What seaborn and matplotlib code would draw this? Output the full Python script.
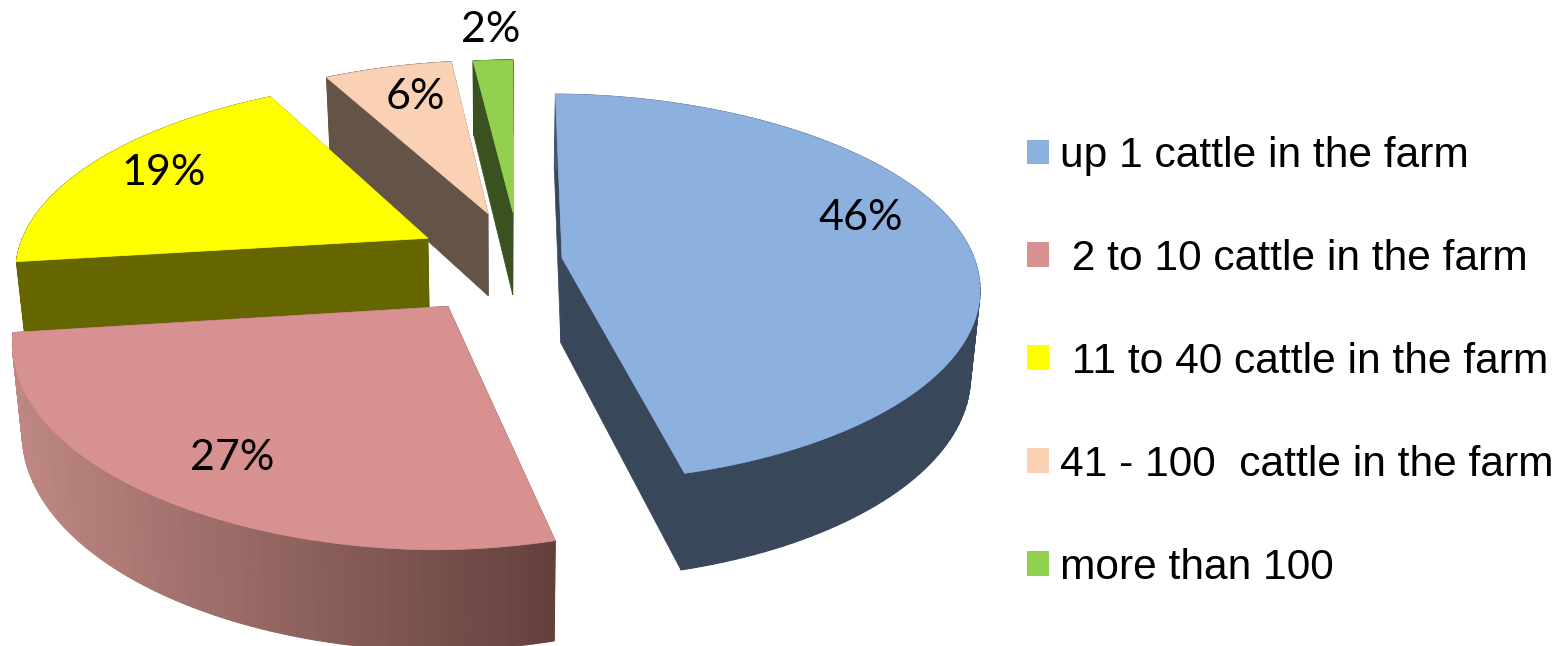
#!/usr/bin/env python3
# -*- coding: utf-8 -*-
import numpy as np
import matplotlib
matplotlib.use('Agg')
import matplotlib.pyplot as plt
from matplotlib.collections import PolyCollection
from matplotlib.patches import Patch, Polygon
import seaborn as sns

# data
categories = ['up 1 cattle in the farm', ' 2 to 10 cattle in the farm', ' 11 to 40 cattle in the farm',
              '41 - 100  cattle in the farm', 'more than 100']
shares = [46, 27, 19, 6, 2]

# colours
top_colors = ['#8DB1DF', '#D79190', '#FFFF00', '#FAD1B4', '#92D050']
side_light = ['#435672', '#BE8783', '#666600', '#645448', '#3A5220']
side_dark = ['#39475B', '#63403C', '#666600', '#645448', '#3A5220']
# blue only lightens right at its left edge, pink runs evenly
side_ramp = [6, 1, 1, 1, 1]

# how far each slice is pulled out, and where the labels sit
explode_x = [0.119, -0.152, -0.21, -0.063, 0.0]
explode_y = [0.016, -0.23, 0.122, 0.26, 0.265]
label_xy = [(861, 218), (232, 458), (164, 173), (415, 97), (491, 30)]
draw_order = [4, 3, 2, 0, 1]

# fake 3D projection
CX, CY = 513, 261
RX, RY = 413, 190
PERSP = 0.155
DEPTH = 85
VX, SHRINK = 500, 0.98
RIM_POWER = 1.04


def project(X, Y):
    s = 1 / (1 + PERSP * Y)
    return CX + RX * X * s, CY - RY * Y * s, DEPTH * s ** 0.8


def drop(x, y, h):
    return VX + (x - VX) * SHRINK, y + h


sns.set_theme(style='white')
plt.rcParams['font.family'] = ['Liberation Sans', 'DejaVu Sans']

fig = plt.figure(figsize=(15.66, 6.46), dpi=100)
ax = fig.add_axes([0, 0, 1, 1])
ax.set_xlim(0, 1566)
ax.set_ylim(646, 0)
ax.axis('off')

ends = np.cumsum(shares) / np.sum(shares) * 2 * np.pi
starts = np.r_[0, ends[:-1]]

for i in draw_order:
    z = draw_order.index(i) * 3
    theta = np.linspace(starts[i], ends[i], 120)
    X = explode_x[i] + np.sign(np.sin(theta)) * np.abs(np.sin(theta)) ** RIM_POWER
    Y = explode_y[i] + np.cos(theta)
    x, y, h = project(X, Y)
    xb, yb = drop(x, y, h)
    px, py, ph = project(explode_x[i], explode_y[i])
    pxb, pyb = drop(px, py, ph)

    # straight walls
    for e in [0, -1]:
        ax.add_patch(Polygon([(px, py), (x[e], y[e]), (xb[e], yb[e]), (pxb, pyb)],
                             fc=side_dark[i], ec=side_dark[i], lw=0.5, zorder=2 + z))

    # curved wall, shaded along x
    pal = sns.blend_palette([side_light[i]] + [side_dark[i]] * side_ramp[i], 64)
    span = max(x.max() - x.min(), 1)
    quads, cols = [], []
    for k in range(len(theta) - 1):
        quads.append([(x[k], y[k]), (x[k + 1], y[k + 1]), (xb[k + 1], yb[k + 1]), (xb[k], yb[k])])
        cols.append(pal[int((x[k] - x.min()) / span * 63)])
    ax.add_collection(PolyCollection(quads, facecolors=cols, edgecolors=cols, linewidths=0.8, zorder=3 + z))

    # top face
    ax.add_patch(Polygon(np.c_[np.r_[px, x], np.r_[py, y]], fc=top_colors[i], ec=top_colors[i], lw=0.5,
                         zorder=4 + z))

for share, (lx, ly) in zip(shares, label_xy):
    ax.text(lx, ly, f'{share}%', ha='center', va='center', fontsize=31, color='black',
            family=['Lato', 'DejaVu Sans'], zorder=30)

handles = [Patch(fc=c, ec='none') for c in top_colors]
leg = ax.legend(handles, categories, loc='upper left', bbox_to_anchor=(1027, 136),
                bbox_transform=ax.transData, frameon=False, fontsize=30.6, labelcolor='black',
                borderpad=0, borderaxespad=0, handlelength=0.52, handleheight=0.52,
                handletextpad=0.26, labelspacing=1.48)
leg.set_zorder(30)

fig.savefig('out.png', dpi=100)
